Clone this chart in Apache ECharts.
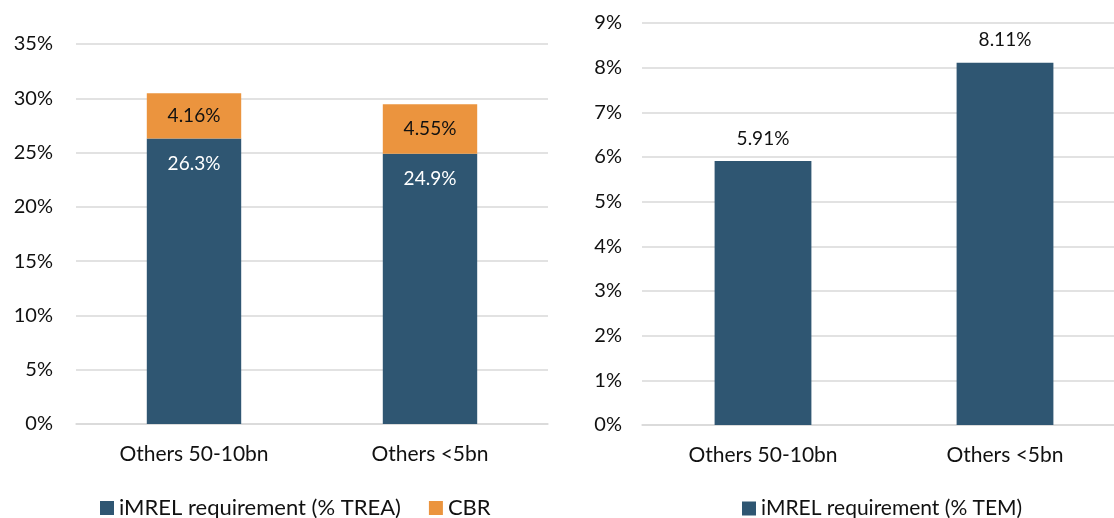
<!DOCTYPE html>
<html>
<head>
<meta charset="utf-8">
<script src="https://cdn.jsdelivr.net/npm/echarts@6/dist/echarts.min.js"></script>
<style>
  html, body { margin: 0; padding: 0; background: #fff; overflow: hidden; }
  /* the right panel's plot area runs past the window edge */
  #chart { width: 1130px; height: 518px; }
</style>
</head>
<body>
<div id="chart"></div>
<script>
// Categories shared by both panels
const categories = ['Others 50-10bn', 'Others <5bn'];

// Left panel: requirement as % of TREA, stacked with CBR
const imrelTrea = [26.3, 24.9];
const cbr = [4.16, 4.55];

// Right panel: requirement as % of TEM
const imrelTem = [5.91, 8.11];

// Axis ranges
const leftAxis = { min: 0, max: 35, interval: 5 };
const rightAxis = { min: 0, max: 9, interval: 1 };

const seriesNames = {
  trea: 'iMREL requirement (% TREA)',
  cbr: 'CBR',
  tem: 'iMREL requirement (% TEM)'
};

const BLUE = '#2F5672';
const ORANGE = '#EB943E';
const GRID = '#D9D9D9';
const TEXT = '#111111';
const FONT = 'Lato, "Open Sans", "Liberation Sans", sans-serif';

const pct = p => p.value + '%';

const chart = echarts.init(document.getElementById('chart'));

chart.setOption({
  animation: false,
  textStyle: { fontFamily: FONT, color: TEXT },
  grid: [
    { left: 76, top: 44, width: 472, height: 380 },
    { left: 642, top: 23, width: 484, height: 402 }
  ],
  legend: [
    {
      data: [seriesNames.trea, seriesNames.cbr],
      left: 95, top: 492,
      icon: 'rect', itemWidth: 14, itemHeight: 14, itemGap: 28,
      textStyle: { fontFamily: FONT, fontSize: 22, color: TEXT }
    },
    {
      data: [seriesNames.tem],
      left: 737, top: 493,
      icon: 'rect', itemWidth: 14, itemHeight: 14,
      textStyle: { fontFamily: FONT, fontSize: 21, color: TEXT }
    }
  ],
  xAxis: [
    {
      type: 'category', gridIndex: 0, data: categories,
      axisLine: { lineStyle: { color: GRID, width: 1.5 } },
      axisTick: { show: false },
      axisLabel: { fontFamily: FONT, fontSize: 21, color: TEXT, margin: 20 }
    },
    {
      type: 'category', gridIndex: 1, data: categories,
      axisLine: { lineStyle: { color: GRID, width: 1.5 } },
      axisTick: { show: false },
      axisLabel: { fontFamily: FONT, fontSize: 21, color: TEXT, margin: 20 }
    }
  ],
  yAxis: [
    {
      type: 'value', gridIndex: 0,
      min: leftAxis.min, max: leftAxis.max, interval: leftAxis.interval,
      axisLine: { show: false }, axisTick: { show: false },
      splitLine: { lineStyle: { color: GRID, width: 1.5 } },
      axisLabel: { formatter: '{value}%', fontFamily: FONT, fontSize: 20, color: TEXT, margin: 23 }
    },
    {
      type: 'value', gridIndex: 1,
      min: rightAxis.min, max: rightAxis.max, interval: rightAxis.interval,
      axisLine: { show: false }, axisTick: { show: false },
      splitLine: { lineStyle: { color: GRID, width: 1.5 } },
      axisLabel: { formatter: '{value}%', fontFamily: FONT, fontSize: 20, color: TEXT, margin: 20 }
    }
  ],
  series: [
    {
      name: seriesNames.trea, type: 'bar', stack: 'left',
      xAxisIndex: 0, yAxisIndex: 0, barWidth: '40%',
      data: imrelTrea,
      itemStyle: { color: BLUE },
      label: {
        show: true, position: 'insideTop', distance: 16,
        formatter: pct, fontFamily: FONT, fontSize: 19, color: '#ffffff'
      }
    },
    {
      name: seriesNames.cbr, type: 'bar', stack: 'left',
      xAxisIndex: 0, yAxisIndex: 0, barWidth: '40%',
      data: cbr,
      itemStyle: { color: ORANGE },
      label: {
        show: true, position: 'inside',
        formatter: pct, fontFamily: FONT, fontSize: 19, color: TEXT
      }
    },
    {
      name: seriesNames.tem, type: 'bar',
      xAxisIndex: 1, yAxisIndex: 1, barWidth: '40%',
      data: imrelTem,
      itemStyle: { color: BLUE },
      label: {
        show: true, position: 'top', distance: 13,
        formatter: pct, fontFamily: FONT, fontSize: 19, color: TEXT
      }
    }
  ]
});
</script>
</body>
</html>
